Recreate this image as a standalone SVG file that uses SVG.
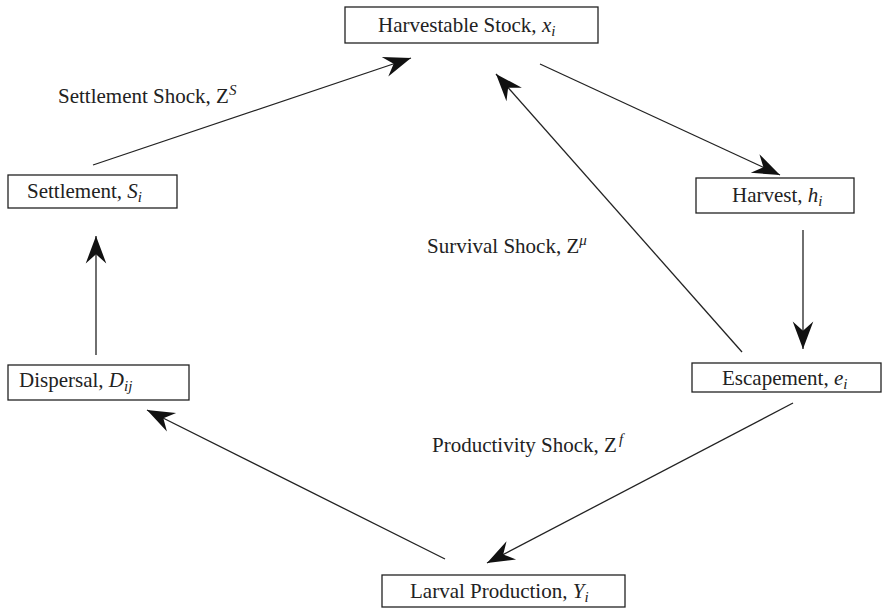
<svg xmlns="http://www.w3.org/2000/svg" width="883" height="610" viewBox="0 0 883 610">
<style>
.box{fill:#fff;stroke:#222;stroke-width:1.3}
text{font-family:"Liberation Serif","Times New Roman",serif;font-size:21px;fill:#222}
.it{font-style:italic}
.sub{font-size:15px;font-style:italic}
.sup{font-size:15px}
.ln{stroke:#222;stroke-width:1.3;fill:none;marker-end:url(#ah)}
</style>
<defs>
<marker id="ah" markerUnits="userSpaceOnUse" markerWidth="32" markerHeight="32" viewBox="-26 -12 28 24" refX="0" refY="0" orient="auto">
<path d="M0,0 L-24,-9 L-16,0 L-24,9 Z" fill="#111"/>
</marker>
</defs>
<g id="connectors">
<line class="ln" x1="93" y1="165" x2="411" y2="58"/>
<line class="ln" x1="540" y1="64" x2="780" y2="175"/>
<line class="ln" x1="803" y1="230" x2="803" y2="349"/>
<line class="ln" x1="742" y1="352" x2="496" y2="74"/>
<line class="ln" x1="793" y1="403" x2="487" y2="563"/>
<line class="ln" x1="445" y1="559" x2="147" y2="410"/>
<line class="ln" x1="96" y1="355" x2="96" y2="236"/>
</g>
<g id="harvestable">
<rect class="box" x="345" y="7" width="253" height="36"/>
<text x="378" y="32">Harvestable Stock, <tspan class="it">x</tspan><tspan class="sub" dy="4">i</tspan></text>
</g>
<g id="harvest">
<rect class="box" x="696" y="178" width="158" height="35"/>
<text x="732" y="202">Harvest, <tspan class="it">h</tspan><tspan class="sub" dy="4">i</tspan></text>
</g>
<g id="escapement">
<rect class="box" x="692" y="363" width="189" height="29"/>
<text x="722" y="385">Escapement, <tspan class="it">e</tspan><tspan class="sub" dy="4">i</tspan></text>
</g>
<g id="larval">
<rect class="box" x="382" y="575" width="243" height="32"/>
<text x="410" y="598">Larval Production, <tspan class="it">Y</tspan><tspan class="sub" dy="4">i</tspan></text>
</g>
<g id="dispersal">
<rect class="box" x="8" y="365" width="181" height="35"/>
<text x="19" y="387">Dispersal, <tspan class="it">D</tspan><tspan class="sub" dy="4">ij</tspan></text>
</g>
<g id="settlement">
<rect class="box" x="8" y="175" width="169" height="33"/>
<text x="27" y="198">Settlement, <tspan class="it">S</tspan><tspan class="sub" dy="4">i</tspan></text>
</g>
<g id="labels">
<text x="58" y="103">Settlement Shock, Z<tspan class="sup it" dy="-8">S</tspan></text>
<text x="427" y="253">Survival Shock, Z<tspan class="sup it" dy="-8">μ</tspan></text>
<text x="432" y="452">Productivity Shock, Z<tspan class="sup it" dy="-8" dx="2">f</tspan></text>
</g>
</svg>
